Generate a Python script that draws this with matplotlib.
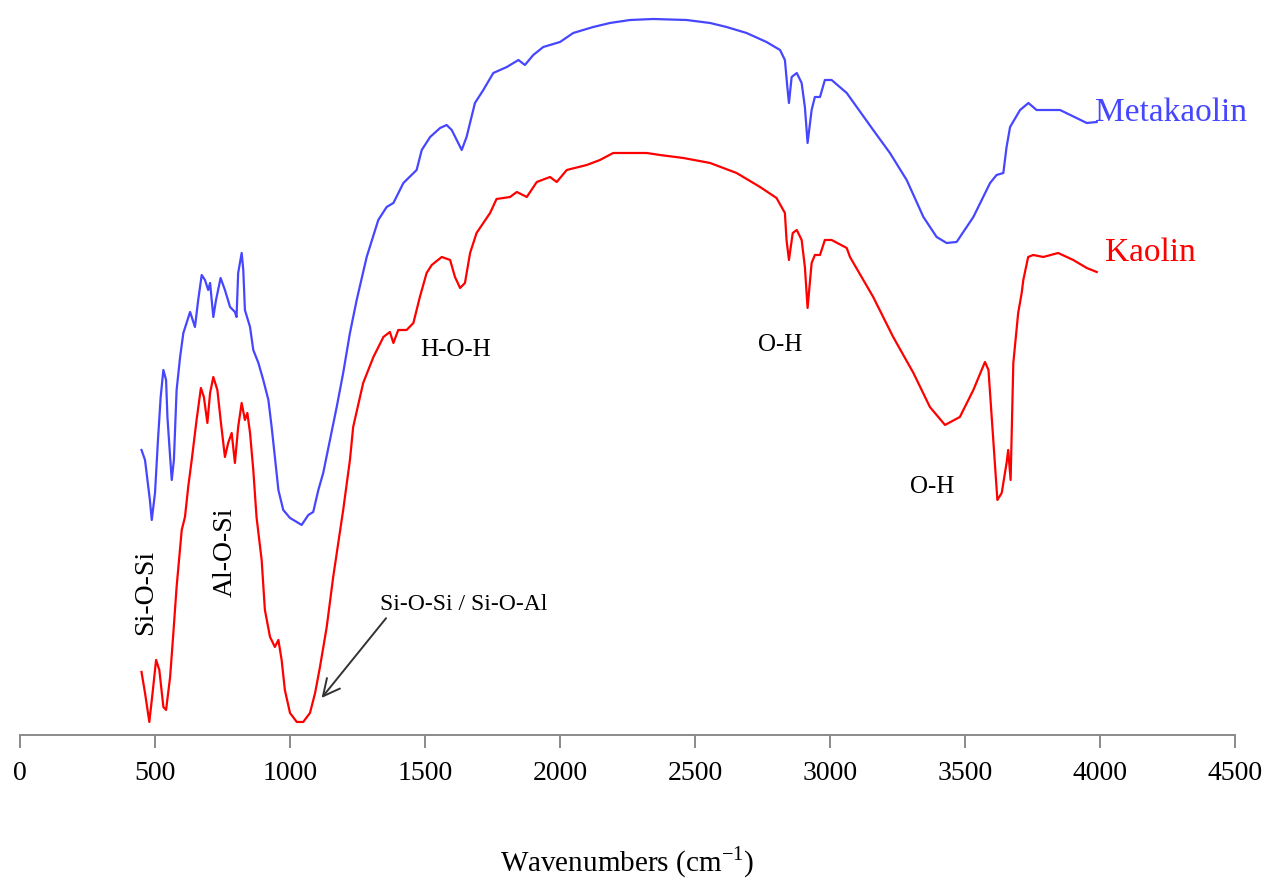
import matplotlib.pyplot as plt
import numpy as np

plt.rcParams['font.family'] = ['Liberation Serif', 'DejaVu Serif']

# FTIR spectra, transmittance in arbitrary units (curves offset)
meta_wn = [450, 463, 481, 488, 500, 511, 521, 531, 541, 546, 556, 562, 570, 580, 593, 605,
           630, 648, 660, 673, 685, 697, 704, 716, 726, 743, 759, 778, 796, 802, 808, 821,
           827, 833, 852, 864, 883, 901, 920, 932, 944, 957, 975, 1000, 1025, 1043, 1068,
           1086, 1105, 1123, 1148, 1173, 1197, 1222, 1247, 1284, 1327, 1358, 1383, 1420,
           1469, 1488, 1519, 1556, 1580, 1599, 1636, 1654, 1685, 1716, 1753, 1803, 1846,
           1870, 1901, 1938, 2000, 2049, 2123, 2185, 2259, 2346, 2469, 2556, 2617, 2691,
           2765, 2815, 2833, 2842, 2848, 2858, 2877, 2895, 2907, 2917, 2932, 2944, 2963,
           2981, 3006, 3062, 3160, 3222, 3284, 3346, 3395, 3432, 3469, 3531, 3593, 3617,
           3642, 3654, 3667, 3704, 3735, 3765, 3815, 3852, 3913, 3951, 3988]
meta_t = [285, 275, 235, 215, 242, 295, 338, 365, 355, 318, 278, 255, 275, 345, 378, 402,
          423, 408, 435, 460, 455, 445, 452, 418, 435, 457, 445, 428, 423, 418, 462, 482,
          465, 425, 408, 385, 372, 355, 335, 308, 278, 245, 225, 217, 213, 210, 220,
          223, 245, 262, 295, 328, 362, 402, 435, 478, 515, 528, 532, 552,
          565, 585, 598, 607, 610, 605, 585, 598, 632, 645, 662, 668, 675,
          670, 680, 688, 693, 702, 708, 712, 715, 716, 715, 712, 708, 702,
          693, 685, 675, 648, 632, 658, 662, 652, 628, 592, 625, 638, 638,
          655, 655, 642, 605, 582, 555, 518, 498, 492, 493, 518, 552, 560,
          562, 588, 608, 625, 632, 625, 625, 625, 617, 612, 613]

kao_wn = [450, 463, 479, 491, 504, 516, 531, 541, 556, 568, 580, 599, 611, 623, 636, 654,
          670, 681, 694, 704, 716, 731, 743, 759, 771, 784, 796, 808, 821, 833, 842, 852,
          864, 876, 895, 907, 926, 944, 957, 969, 981, 1000, 1025, 1049, 1074, 1093, 1111,
          1136, 1160, 1197, 1222, 1234, 1271, 1309, 1346, 1370, 1383, 1401, 1432, 1457,
          1481, 1506, 1525, 1562, 1593, 1611, 1630, 1648, 1667, 1691, 1716, 1741, 1765,
          1815, 1840, 1877, 1914, 1963, 1988, 2025, 2099, 2148, 2197, 2321, 2370, 2457,
          2556, 2654, 2741, 2802, 2833, 2839, 2848, 2862, 2877, 2895, 2907, 2917, 2932,
          2944, 2963, 2981, 3006, 3062, 3074, 3160, 3234, 3309, 3370, 3426, 3481, 3531,
          3574, 3587, 3599, 3611, 3620, 3636, 3654, 3660, 3669, 3679, 3697, 3710, 3716,
          3734, 3753, 3790, 3845, 3901, 3951, 3988]
kao_t = [63, 42, 13, 42, 75, 65, 28, 25, 58, 102, 148, 205, 218, 248, 275, 315,
         347, 338, 312, 342, 358, 345, 315, 278, 292, 302, 272, 308, 332, 315, 322, 302,
         265, 218, 175, 125, 98, 88, 95, 75, 45, 22, 13, 13, 22, 42, 68,
         108, 158, 225, 275, 308, 352, 378, 398, 403, 392, 405, 405, 412,
         438, 462, 470, 478, 475, 458, 447, 452, 482, 502, 512, 522, 536,
         538, 543, 538, 553, 558, 553, 565, 570, 575, 582, 582, 580, 577,
         572, 562, 548, 537, 522, 495, 475, 502, 505, 495, 468, 427, 472,
         480, 480, 495, 495, 487, 478, 438, 398, 362, 328, 310, 318, 345,
         373, 365, 318, 272, 235, 242, 272, 285, 255, 372, 422, 442, 455,
         478, 480, 478, 482, 475, 467, 463]

xticks = np.arange(0, 4501, 500)

fig = plt.figure(figsize=(12.66, 8.84), dpi=100)
ax = fig.add_axes([0.0158, 0.1686, 0.9597, 0.8314])

ax.plot(meta_wn, meta_t, color='#4646ff', lw=1.6)
ax.plot(kao_wn, kao_t, color='#ff0000', lw=1.6)

ax.set_xlim(0, 4500)
ax.set_ylim(0, 735)
ax.set_xticks(xticks)
ax.set_yticks([])
for s in ['left', 'right', 'top']:
    ax.spines[s].set_visible(False)
ax.spines['bottom'].set_color('#8a8a8a')
ax.spines['bottom'].set_linewidth(1.4)
ax.tick_params(axis='x', direction='out', length=9, width=1.4, color='#8a8a8a',
               labelsize=20, pad=10)
ax.set_xlabel('Wavenumbers (cm$^{\\mathregular{-1}}$)', fontsize=21, labelpad=42)

ax.text(3981, 622, 'Metakaolin', color='#4646ff', fontsize=24, va='center', ha='left')
ax.text(4019, 482, 'Kaolin', color='#ff0000', fontsize=24, va='center', ha='left')

ax.text(1615, 385, 'H-O-H', fontsize=18, ha='center', va='center')
ax.text(2815, 390, 'O-H', fontsize=18, ha='center', va='center')
ax.text(3378, 248, 'O-H', fontsize=18, ha='center', va='center')
ax.text(467, 143, 'Si-O-Si', fontsize=20, rotation=90, ha='center', va='center')
ax.text(759, 183, 'Al-O-Si', fontsize=20, rotation=90, ha='center', va='center')
ax.annotate('Si-O-Si / Si-O-Al', xy=(1117, 37), xytext=(1333, 130),
            fontsize=17, ha='left', va='center',
            arrowprops=dict(arrowstyle='->', color='#333333', lw=1.4,
                            mutation_scale=30, shrinkA=0, shrinkB=0,
                            relpos=(0.05, 0.0)))

plt.savefig('out.png', dpi=100)
